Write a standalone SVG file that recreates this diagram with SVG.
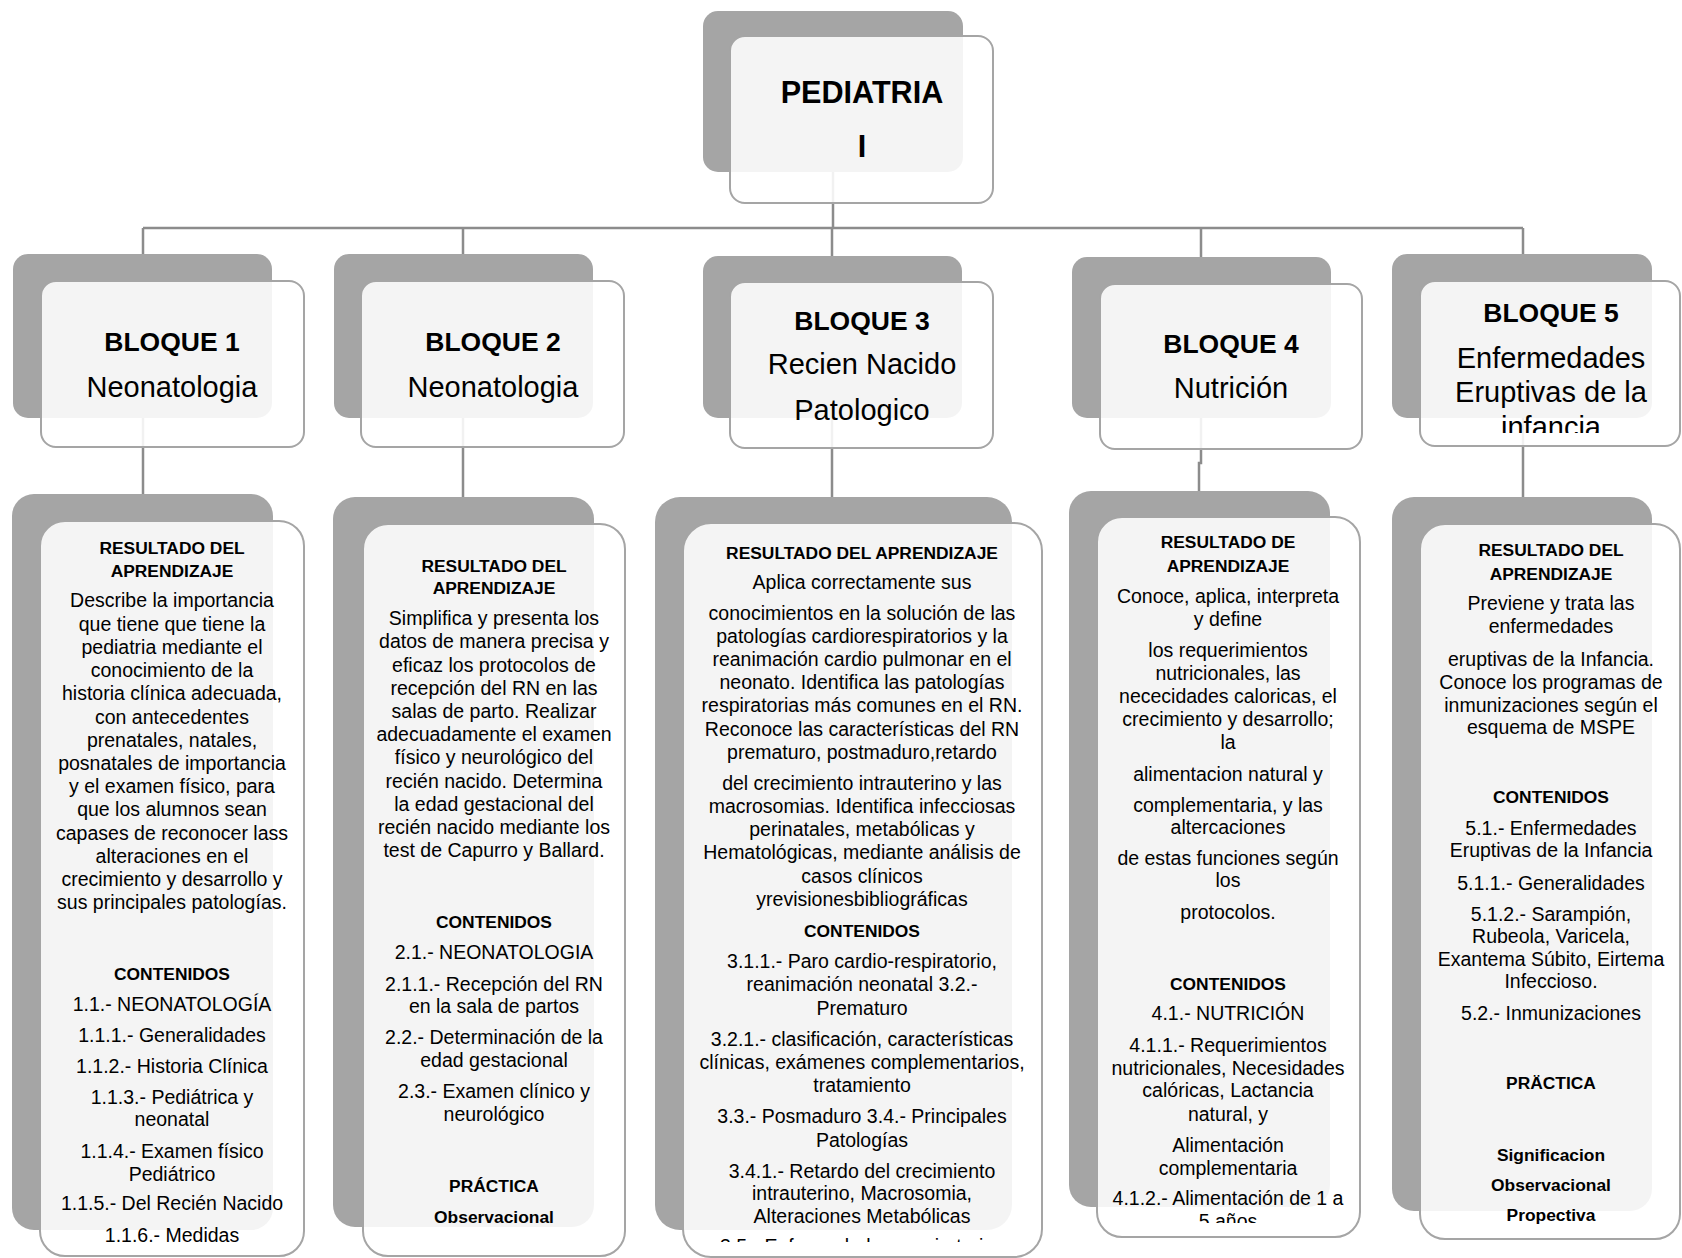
<svg xmlns="http://www.w3.org/2000/svg" width="1682" height="1258" viewBox="0 0 1682 1258">
<style>
.dk{fill:#a5a5a5}
.lt{fill:#fff;fill-opacity:.88;stroke:#a5a5a5;stroke-width:2}
text{font-family:"Liberation Sans",Arial,sans-serif;fill:#000;text-anchor:middle}
.t{font-size:19.5px}
.b{font-size:17.4px;font-weight:bold}
.h{font-size:26.5px;font-weight:bold}
.s{font-size:29px}
.p{font-size:30.6px;font-weight:bold}
.cn{fill:none;stroke:#8c8c8c;stroke-width:2.5}
</style>
<defs>
<clipPath id="c5h"><rect x="1418" y="279" width="264" height="154"/></clipPath>
<clipPath id="c3"><rect x="683" y="523" width="360" height="719"/></clipPath>
<clipPath id="c4"><rect x="1097" y="517" width="264" height="706"/></clipPath>
</defs>
<g id="connectors">
<path class="cn" d="M833,172 V229 M143,228 H1523 M143,228 V254 M463,228 V254 M832,228 V256 M1201,228 V257 M1523,228 V254"/>
<path class="cn" d="M143,418 V494 M463,418 V497 M832,418 V497 M1201,418 V463 H1199 V491 M1523,418 V497"/>
</g>
<g id="root">
<rect class="dk" x="703" y="11" width="260" height="161" rx="15"/>
<rect class="lt" x="730" y="36" width="263" height="167" rx="15"/>
<text class="p" x="862" y="103">PEDIATRIA</text>
<text class="p" x="862" y="157">I</text>
</g>
<g id="bloque1">
<rect class="dk" x="13" y="254" width="259" height="164" rx="15"/>
<rect class="lt" x="41" y="281" width="263" height="166" rx="15"/>
<text class="h" x="172" y="351">BLOQUE 1</text>
<text class="s" x="172" y="397">Neonatologia</text>
</g>
<g id="bloque2">
<rect class="dk" x="334" y="254" width="259" height="164" rx="15"/>
<rect class="lt" x="361" y="281" width="263" height="166" rx="15"/>
<text class="h" x="493" y="351">BLOQUE 2</text>
<text class="s" x="493" y="397">Neonatologia</text>
</g>
<g id="bloque3">
<rect class="dk" x="703" y="256" width="259" height="162" rx="15"/>
<rect class="lt" x="730" y="282" width="263" height="166" rx="15"/>
<text class="h" x="862" y="330">BLOQUE 3</text>
<text class="s" x="862" y="374">Recien Nacido</text>
<text class="s" x="862" y="420">Patologico</text>
</g>
<g id="bloque4">
<rect class="dk" x="1072" y="257" width="259" height="161" rx="15"/>
<rect class="lt" x="1100" y="284" width="262" height="165" rx="15"/>
<text class="h" x="1231" y="353">BLOQUE 4</text>
<text class="s" x="1231" y="398">Nutrición</text>
</g>
<g id="bloque5">
<rect class="dk" x="1392" y="254" width="260" height="164" rx="15"/>
<rect class="lt" x="1420" y="281" width="260" height="165" rx="15"/>
<text class="h" x="1551" y="322">BLOQUE 5</text>
<g clip-path="url(#c5h)">
<text class="s" x="1551" y="368">Enfermedades</text>
<text class="s" x="1551" y="402">Eruptivas de la</text>
<text class="s" x="1551" y="437">infancia</text>
</g>
</g>
<g id="contenido1">
<rect class="dk" x="12" y="494" width="261" height="736" rx="22"/>
<rect class="lt" x="40" y="521" width="264" height="735" rx="25"/>
<text class="b" x="172" y="554">RESULTADO DEL</text>
<text class="b" x="172" y="577">APRENDIZAJE</text>
<text class="t" x="172" y="607">Describe la importancia</text>
<text class="t" x="172" y="630.5">que tiene que tiene la</text>
<text class="t" x="172" y="654">pediatria mediante el</text>
<text class="t" x="172" y="677">conocimiento de la</text>
<text class="t" x="172" y="700">historia clínica adecuada,</text>
<text class="t" x="172" y="723.5">con antecedentes</text>
<text class="t" x="172" y="746.5">prenatales, natales,</text>
<text class="t" x="172" y="770">posnatales de importancia</text>
<text class="t" x="172" y="793">y el examen físico, para</text>
<text class="t" x="172" y="816">que los alumnos sean</text>
<text class="t" x="172" y="839.5">capases de reconocer lass</text>
<text class="t" x="172" y="862.5">alteraciones en el</text>
<text class="t" x="172" y="886">crecimiento y desarrollo y</text>
<text class="t" x="172" y="909">sus principales patologías.</text>
<text class="b" x="172" y="980">CONTENIDOS</text>
<text class="t" x="172" y="1011">1.1.- NEONATOLOGÍA</text>
<text class="t" x="172" y="1042">1.1.1.- Generalidades</text>
<text class="t" x="172" y="1073">1.1.2.- Historia Clínica</text>
<text class="t" x="172" y="1103.5">1.1.3.- Pediátrica y</text>
<text class="t" x="172" y="1126">neonatal</text>
<text class="t" x="172" y="1158">1.1.4.- Examen físico</text>
<text class="t" x="172" y="1181">Pediátrico</text>
<text class="t" x="172" y="1210">1.1.5.- Del Recién Nacido</text>
<text class="t" x="172" y="1241.5">1.1.6.- Medidas</text>
</g>
<g id="contenido2">
<rect class="dk" x="333" y="497" width="261" height="730" rx="22"/>
<rect class="lt" x="363" y="524" width="262" height="732" rx="25"/>
<text class="b" x="494" y="571.5">RESULTADO DEL</text>
<text class="b" x="494" y="594">APRENDIZAJE</text>
<text class="t" x="494" y="625">Simplifica y presenta los</text>
<text class="t" x="494" y="648.3">datos de manera precisa y</text>
<text class="t" x="494" y="671.7">eficaz los protocolos de</text>
<text class="t" x="494" y="694.5">recepción del RN en las</text>
<text class="t" x="494" y="717.7">salas de parto. Realizar</text>
<text class="t" x="494" y="741">adecuadamente el examen</text>
<text class="t" x="494" y="764.3">físico y neurológico del</text>
<text class="t" x="494" y="787.5">recién nacido. Determina</text>
<text class="t" x="494" y="810.7">la edad gestacional del</text>
<text class="t" x="494" y="834">recién nacido mediante los</text>
<text class="t" x="494" y="857.3">test de Capurro y Ballard.</text>
<text class="b" x="494" y="928.3">CONTENIDOS</text>
<text class="t" x="494" y="959">2.1.- NEONATOLOGIA</text>
<text class="t" x="494" y="990.7">2.1.1.- Recepción del RN</text>
<text class="t" x="494" y="1013">en la sala de partos</text>
<text class="t" x="494" y="1044.3">2.2.- Determinación de la</text>
<text class="t" x="494" y="1066.7">edad gestacional</text>
<text class="t" x="494" y="1098.3">2.3.- Examen clínico y</text>
<text class="t" x="494" y="1120.7">neurológico</text>
<text class="b" x="494" y="1191.7">PRÁCTICA</text>
<text class="b" x="494" y="1222.7">Observacional</text>
</g>
<g id="contenido3">
<rect class="dk" x="655" y="497" width="357" height="733" rx="25"/>
<rect class="lt" x="683" y="523" width="359" height="734" rx="28"/>
<g clip-path="url(#c3)">
<text class="b" x="862" y="559">RESULTADO DEL APRENDIZAJE</text>
<text class="t" x="862" y="589.3">Aplica correctamente sus</text>
<text class="t" x="862" y="620">conocimientos en la solución de las</text>
<text class="t" x="862" y="643.3">patologías cardiorespiratorios y la</text>
<text class="t" x="862" y="666.3">reanimación cardio pulmonar en el</text>
<text class="t" x="862" y="689.3">neonato. Identifica las patologías</text>
<text class="t" x="862" y="712.3">respiratorias más comunes en el RN.</text>
<text class="t" x="862" y="735.7">Reconoce las características del RN</text>
<text class="t" x="862" y="758.7">prematuro, postmaduro,retardo</text>
<text class="t" x="862" y="790">del crecimiento intrauterino y las</text>
<text class="t" x="862" y="813.3">macrosomias. Identifica infecciosas</text>
<text class="t" x="862" y="836.3">perinatales, metabólicas y</text>
<text class="t" x="862" y="859.3">Hematológicas, mediante análisis de</text>
<text class="t" x="862" y="882.7">casos clínicos</text>
<text class="t" x="862" y="906">yrevisionesbibliográficas</text>
<text class="b" x="862" y="937.3">CONTENIDOS</text>
<text class="t" x="862" y="968.3">3.1.1.- Paro cardio-respiratorio,</text>
<text class="t" x="862" y="991.3">reanimación neonatal 3.2.-</text>
<text class="t" x="862" y="1015">Prematuro</text>
<text class="t" x="862" y="1045.7">3.2.1.- clasificación, características</text>
<text class="t" x="862" y="1069">clínicas, exámenes complementarios,</text>
<text class="t" x="862" y="1092.3">tratamiento</text>
<text class="t" x="862" y="1123.3">3.3.- Posmaduro 3.4.- Principales</text>
<text class="t" x="862" y="1146.7">Patologías</text>
<text class="t" x="862" y="1177.7">3.4.1.- Retardo del crecimiento</text>
<text class="t" x="862" y="1200.3">intrauterino, Macrosomia,</text>
<text class="t" x="862" y="1223.3">Alteraciones Metabólicas</text>
<text class="t" x="862" y="1253">3.5.- Enfermedades respiratorias</text>
</g>
</g>
<g id="contenido4">
<rect class="dk" x="1069" y="491" width="261" height="716" rx="22"/>
<rect class="lt" x="1097" y="517" width="263" height="720" rx="25"/>
<g clip-path="url(#c4)">
<text class="b" x="1228" y="548.3">RESULTADO DE</text>
<text class="b" x="1228" y="571.7">APRENDIZAJE</text>
<text class="t" x="1228" y="603.3">Conoce, aplica, interpreta</text>
<text class="t" x="1228" y="626">y define</text>
<text class="t" x="1228" y="656.7">los requerimientos</text>
<text class="t" x="1228" y="680">nutricionales, las</text>
<text class="t" x="1228" y="702.7">nececidades caloricas, el</text>
<text class="t" x="1228" y="726">crecimiento y desarrollo;</text>
<text class="t" x="1228" y="749.3">la</text>
<text class="t" x="1228" y="780.7">alimentacion natural y</text>
<text class="t" x="1228" y="811.7">complementaria, y las</text>
<text class="t" x="1228" y="834.3">altercaciones</text>
<text class="t" x="1228" y="865">de estas funciones según</text>
<text class="t" x="1228" y="887.3">los</text>
<text class="t" x="1228" y="919.3">protocolos.</text>
<text class="b" x="1228" y="990">CONTENIDOS</text>
<text class="t" x="1228" y="1020">4.1.- NUTRICIÓN</text>
<text class="t" x="1228" y="1051.7">4.1.1.- Requerimientos</text>
<text class="t" x="1228" y="1075">nutricionales, Necesidades</text>
<text class="t" x="1228" y="1097.3">calóricas, Lactancia</text>
<text class="t" x="1228" y="1120.7">natural, y</text>
<text class="t" x="1228" y="1151.7">Alimentación</text>
<text class="t" x="1228" y="1175">complementaria</text>
<text class="t" x="1228" y="1205">4.1.2.- Alimentación de 1 a</text>
<text class="t" x="1228" y="1228">5 años</text>
</g>
</g>
<g id="contenido5">
<rect class="dk" x="1392" y="497" width="260" height="714" rx="22"/>
<rect class="lt" x="1420" y="524" width="260" height="715" rx="25"/>
<text class="b" x="1551" y="556">RESULTADO DEL</text>
<text class="b" x="1551" y="580">APRENDIZAJE</text>
<text class="t" x="1551" y="610">Previene y trata las</text>
<text class="t" x="1551" y="632.5">enfermedades</text>
<text class="t" x="1551" y="666">eruptivas de la Infancia.</text>
<text class="t" x="1551" y="689">Conoce los programas de</text>
<text class="t" x="1551" y="711.5">inmunizaciones según el</text>
<text class="t" x="1551" y="734">esquema de MSPE</text>
<text class="b" x="1551" y="803">CONTENIDOS</text>
<text class="t" x="1551" y="834.5">5.1.- Enfermedades</text>
<text class="t" x="1551" y="857">Eruptivas de la Infancia</text>
<text class="t" x="1551" y="889.5">5.1.1.- Generalidades</text>
<text class="t" x="1551" y="920.5">5.1.2.- Sarampión,</text>
<text class="t" x="1551" y="943">Rubeola, Varicela,</text>
<text class="t" x="1551" y="965.5">Exantema Súbito, Eirtema</text>
<text class="t" x="1551" y="988">Infeccioso.</text>
<text class="t" x="1551" y="1019.5">5.2.- Inmunizaciones</text>
<text class="b" x="1551" y="1089">PRÄCTICA</text>
<text class="b" x="1551" y="1161">Significacion</text>
<text class="b" x="1551" y="1191">Observacional</text>
<text class="b" x="1551" y="1221">Propectiva</text>
</g>
</svg>
